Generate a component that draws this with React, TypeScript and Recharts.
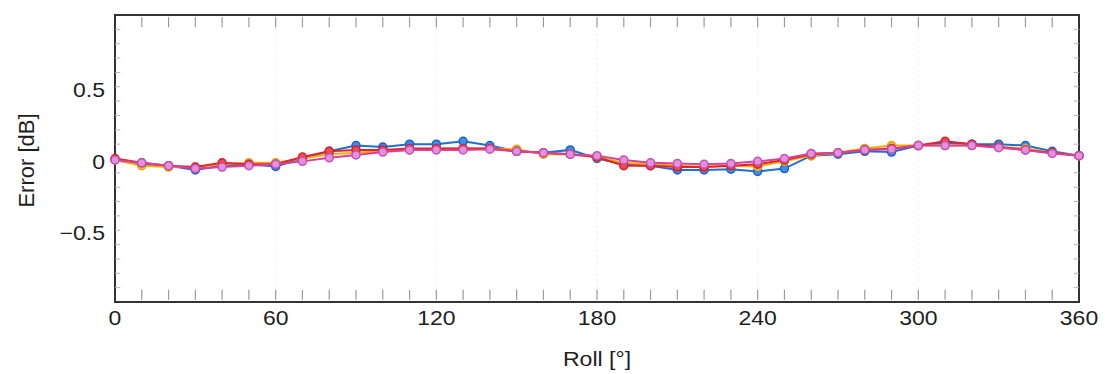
import React from "react";
import {
  LineChart,
  Line,
  XAxis,
  YAxis,
  CartesianGrid,
  ReferenceLine,
  ReferenceArea,
  Label,
} from "recharts";

const rolls = [0, 10, 20, 30, 40, 50, 60, 70, 80, 90, 100, 110, 120, 130, 140, 150, 160, 170, 180, 190, 200, 210, 220, 230, 240, 250, 260, 270, 280, 290, 300, 310, 320, 330, 340, 350, 360];

const blueErr = [-0.01, -0.04, -0.05, -0.08, -0.05, -0.04, -0.055, 0.0, 0.05, 0.09, 0.08, 0.1, 0.1, 0.12, 0.09, 0.05, 0.04, 0.06, 0.0, -0.04, -0.05, -0.08, -0.08, -0.075, -0.09, -0.07, 0.02, 0.03, 0.05, 0.045, 0.09, 0.11, 0.1, 0.1, 0.09, 0.05, 0.02];
const orangeErr = [-0.01, -0.05, -0.06, -0.06, -0.04, -0.03, -0.03, 0.0, 0.03, 0.04, 0.05, 0.06, 0.07, 0.07, 0.07, 0.065, 0.03, 0.03, 0.01, -0.03, -0.04, -0.05, -0.06, -0.05, -0.055, -0.02, 0.02, 0.04, 0.07, 0.09, 0.09, 0.09, 0.09, 0.08, 0.07, 0.04, 0.02];
const redErr = [0.0, -0.03, -0.05, -0.06, -0.03, -0.04, -0.04, 0.01, 0.05, 0.06, 0.06, 0.07, 0.07, 0.07, 0.07, 0.05, 0.04, 0.03, 0.01, -0.05, -0.05, -0.06, -0.06, -0.05, -0.04, -0.01, 0.03, 0.04, 0.06, 0.07, 0.09, 0.12, 0.1, 0.08, 0.06, 0.04, 0.02];
const magentaErr = [-0.01, -0.03, -0.05, -0.07, -0.06, -0.05, -0.04, -0.02, 0.005, 0.025, 0.045, 0.06, 0.06, 0.06, 0.065, 0.05, 0.04, 0.03, 0.02, -0.01, -0.03, -0.035, -0.04, -0.035, -0.02, 0.0, 0.035, 0.04, 0.06, 0.065, 0.09, 0.09, 0.09, 0.075, 0.06, 0.035, 0.02];

const xTicks = [0, 60, 120, 180, 240, 300, 360];
const yTicks = [-0.5, 0, 0.5];
const xMinor = [10, 20, 30, 40, 50, 60, 70, 80, 90, 100, 110, 120, 130, 140, 150, 160, 170, 180, 190, 200, 210, 220, 230, 240, 250, 260, 270, 280, 290, 300, 310, 320, 330, 340, 350];
const yMinor = [-0.9, -0.8, -0.7, -0.6, -0.5, -0.4, -0.3, -0.2, -0.1, 0, 0.1, 0.2, 0.3, 0.4, 0.5, 0.6, 0.7, 0.8, 0.9];

const xLabel = "Roll [°]";
const yLabel = "Error [dB]";

const data = rolls.map((r, i) => ({
  roll: r,
  blue: blueErr[i],
  orange: orangeErr[i],
  red: redErr[i],
  magenta: magentaErr[i],
}));

const FONT = "'Liberation Sans', Arial, Helvetica, sans-serif";
const TEXT = "#1e1e1e";

const fmt = (v: number) => (v < 0 ? "\u2212" + Math.abs(v) : String(v));

const XTick = (props: any) => {
  const { x, y, payload } = props;
  return (
    <g transform={`translate(${x},${y})`}>
      <text transform="scale(1.15,1)" textAnchor="middle" dy="0.71em" fontSize={20} fontFamily={FONT} fill={TEXT}>
        {fmt(payload.value)}
      </text>
    </g>
  );
};

const YTick = (props: any) => {
  const { x, y, payload } = props;
  return (
    <g transform={`translate(${x},${y + 3})`}>
      <text transform="scale(1.15,1)" textAnchor="end" dy="0.36em" fontSize={20} fontFamily={FONT} fill={TEXT}>
        {fmt(payload.value)}
      </text>
    </g>
  );
};

const XLabelContent = (props: any) => {
  const vb = props.viewBox;
  const cx = vb.x + vb.width / 2;
  const by = vb.y + vb.height - 8;
  return (
    <g transform={`translate(${cx},${by})`}>
      <text transform="scale(1.1,1)" textAnchor="middle" fontSize={21} fontFamily={FONT} fill={TEXT}>
        {xLabel}
      </text>
    </g>
  );
};

const YLabelContent = (props: any) => {
  const vb = props.viewBox;
  const cx = vb.x + 26;
  const cy = vb.y + vb.height / 2 + 2;
  return (
    <text
      x={cx}
      y={cy}
      transform={`rotate(-90 ${cx} ${cy})`}
      textAnchor="middle"
      dy="0.36em"
      fontSize={22}
      fontFamily={FONT}
      fill={TEXT}
    >
      {yLabel}
    </text>
  );
};

const minorStroke = "#9a9a9a";

export default function App() {
  return (
    <div style={{ position: "absolute", left: 0, top: 0, width: 1105, height: 374, background: "#fff" }}>
      <LineChart
        width={1105}
        height={374}
        data={data}
        margin={{ top: 15, right: 26, bottom: 0, left: 0 }}
      >
        <CartesianGrid stroke="#f1f1f1" strokeDasharray="3 3" horizontal={false} />
        <XAxis
          dataKey="roll"
          type="number"
          domain={[0, 360]}
          ticks={xTicks}
          interval={0}
          height={72}
          tickLine={false}
          tickSize={0}
          tickMargin={9}
          axisLine={false}
          tick={<XTick />}
        >
          <Label content={<XLabelContent />} />
        </XAxis>
        <YAxis
          type="number"
          domain={[-1, 1]}
          ticks={yTicks}
          interval={0}
          width={115}
          tickLine={false}
          tickSize={0}
          tickMargin={10}
          axisLine={false}
          tick={<YTick />}
        >
          <Label content={<YLabelContent />} />
        </YAxis>

        {xMinor.map((v) => (
          <ReferenceLine key={"xb" + v} segment={[{ x: v, y: -0.985 }, { x: v, y: -0.915 }]} stroke={minorStroke} strokeWidth={1.2} ifOverflow="visible" />
        ))}
        {xMinor.map((v) => (
          <ReferenceLine key={"xt" + v} segment={[{ x: v, y: 0.985 }, { x: v, y: 0.915 }]} stroke={minorStroke} strokeWidth={1.2} ifOverflow="visible" />
        ))}
        {yMinor.map((v) => (
          <ReferenceLine key={"yl" + v} segment={[{ x: 0, y: v }, { x: 2, y: v }]} stroke="#b5b5b5" strokeWidth={1} ifOverflow="visible" />
        ))}
        {yMinor.map((v) => (
          <ReferenceLine key={"yr" + v} segment={[{ x: 358, y: v }, { x: 360, y: v }]} stroke="#b5b5b5" strokeWidth={1} ifOverflow="visible" />
        ))}

        <ReferenceArea x1={0} x2={360} y1={-1} y2={1} fill="none" fillOpacity={0} stroke="#333" strokeWidth={2} ifOverflow="visible" />

        <Line
          dataKey="blue"
          stroke="#1f6fd0"
          strokeWidth={2}
          dot={{ r: 4, fill: "#3d8fea", stroke: "#1c62c2", strokeWidth: 1.5 }}
          isAnimationActive={false}
        />
        <Line
          dataKey="orange"
          stroke="#f2ad00"
          strokeWidth={2}
          dot={{ r: 4, fill: "#f7c330", stroke: "#e9a200", strokeWidth: 1.5 }}
          isAnimationActive={false}
        />
        <Line
          dataKey="red"
          stroke="#e2232f"
          strokeWidth={2}
          dot={{ r: 4, fill: "#ee4a52", stroke: "#d81f2b", strokeWidth: 1.5 }}
          isAnimationActive={false}
        />
        <Line
          dataKey="magenta"
          stroke="#d8409a"
          strokeWidth={2}
          dot={{ r: 4, fill: "#e58fe0", stroke: "#c152b6", strokeWidth: 1.5 }}
          isAnimationActive={false}
        />
      </LineChart>
    </div>
  );
}
